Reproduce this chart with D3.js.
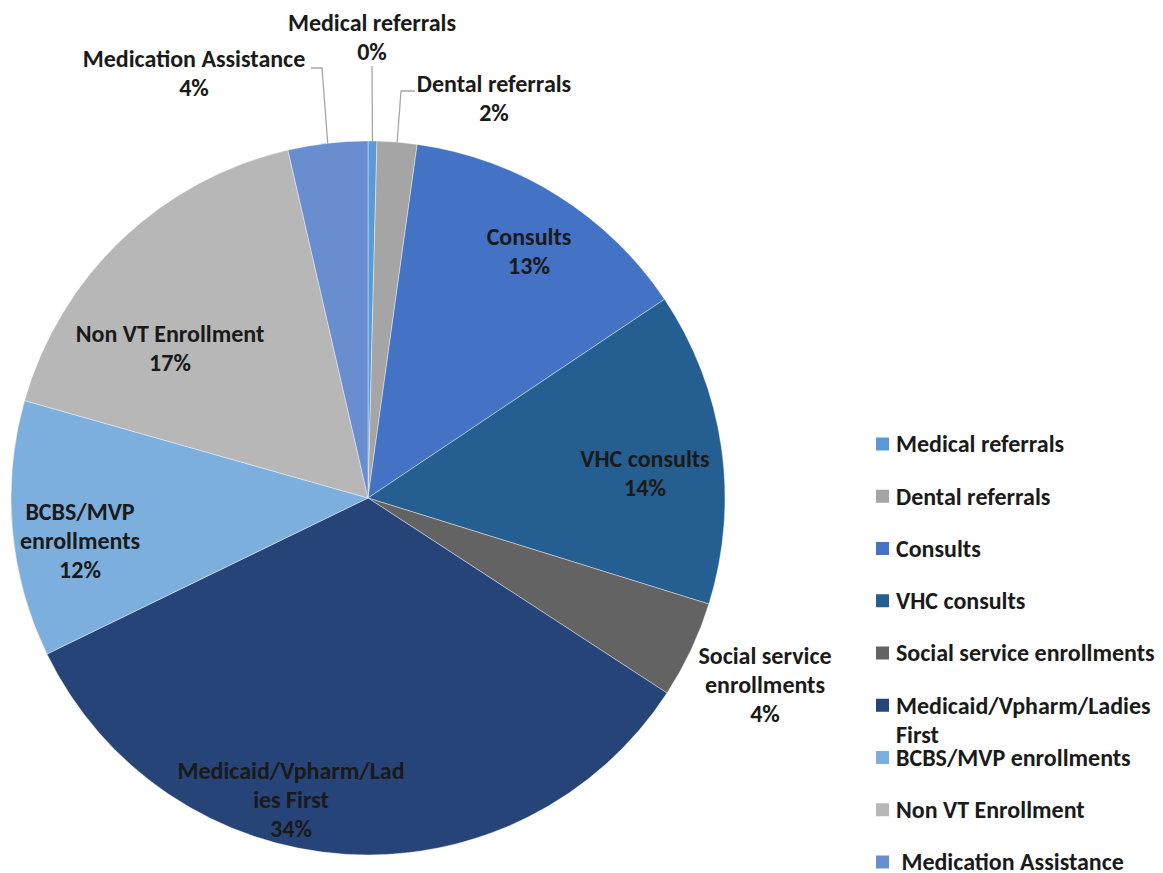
<!DOCTYPE html>
<html><head><meta charset="utf-8">
<script src="https://cdn.jsdelivr.net/npm/d3@7"></script>
<style>
html,body{margin:0;padding:0;background:#fff;}
svg text{font-family:Carlito,Calibri,Lato,sans-serif;font-weight:bold;fill:#1a1a1a;}
</style></head>
<body>
<svg id="chart" width="1163" height="873"></svg>
<script>
// ---- data ----
const categories = ["Medical referrals","Dental referrals","Consults","VHC consults","Social service enrollments","Medicaid/Vpharm/Ladies First","BCBS/MVP enrollments","Non VT Enrollment","Medication Assistance"];
const values = [0.4, 1.8, 13.4, 14.2, 4.4, 33.6, 11.6, 17.0, 3.6];
const colors = ["#5B9BD5","#A5A5A5","#4472C4","#255E91","#636363","#264478","#7CAFDD","#B7B7B7","#698ED0"];
// label text lines (as shown on the chart), percentage appended from values
const labelLines = [["Medical referrals"],["Dental referrals"],["Consults"],["VHC consults"],["Social service","enrollments"],["Medicaid/Vpharm/Lad","ies First"],["BCBS/MVP","enrollments"],["Non VT Enrollment"],["Medication Assistance"]];
const legendLines = [["Medical referrals"],["Dental referrals"],["Consults"],["VHC consults"],["Social service enrollments"],["Medicaid/Vpharm/Ladies","First"],["BCBS/MVP enrollments"],["Non VT Enrollment"],["\u00a0Medication Assistance"]];

// ---- layout ----
const cx = 368, cy = 498, R = 357;
const fontSize = 24, lineH = 29;
// label block centre offsets from pie centre
const labelOffset = [[4,-461],[126,-400],[161,-247],[277,-25],[397,187],[-77,302],[-288,43],[-198,-150],[-174,-425]];
// leader lines: [elbowDx, elbowDy, endDx] relative to pie centre (null = none)
const leaders = [[4,-432,4],[33,-407,47],null,null,null,null,null,null,[-46,-430,-57]];

const svg = d3.select("#chart");
const total = d3.sum(values);
const pie = d3.pie().sort(null).value(d=>d);
const arcs = pie(values);
const arc = d3.arc().innerRadius(0).outerRadius(R);

const g = svg.append("g").attr("transform",`translate(${cx},${cy})`);
g.selectAll("path.slice").data(arcs).join("path")
  .attr("class","slice")
  .attr("d",arc)
  .attr("fill",(d,i)=>colors[i])
  .attr("stroke","#ffffff").attr("stroke-width",0.4);

// leader lines
arcs.forEach((a,i)=>{
  const L = leaders[i]; if(!L) return;
  const mid = (a.startAngle+a.endAngle)/2;
  const ex = R*Math.sin(mid), ey = -R*Math.cos(mid);
  g.append("polyline")
    .attr("points",`${ex},${ey} ${L[0]},${L[1]} ${L[2]},${L[1]}`)
    .attr("fill","none").attr("stroke","#A6A6A6").attr("stroke-width",1.3);
});

// data labels
arcs.forEach((a,i)=>{
  const lines = labelLines[i].concat([Math.round(values[i]/total*100)+"%"]);
  const [ox,oy] = labelOffset[i];
  const t = g.append("text").attr("text-anchor","middle").style("font-size",fontSize+"px");
  const y0 = oy - (lines.length-1)*lineH/2;
  lines.forEach((s,k)=>{
    t.append("tspan").attr("x",ox).attr("y",y0+k*lineH).attr("dy","0.35em").text(s);
  });
});

// legend
const lx = 876, ly0 = 444, lstep = 52.25, sq = 13;
const lg = svg.append("g");
categories.forEach((c,i)=>{
  const y = ly0 + i*lstep;
  lg.append("rect").attr("x",lx).attr("y",y-sq/2).attr("width",sq).attr("height",sq).attr("fill",colors[i]);
  const t = lg.append("text").style("font-size",fontSize+"px").style("white-space","pre");
  legendLines[i].forEach((s,k)=>{
    t.append("tspan").attr("x",lx+20).attr("y",y+k*lineH).attr("dy","0.35em").text(s);
  });
});
</script>
</body></html>
